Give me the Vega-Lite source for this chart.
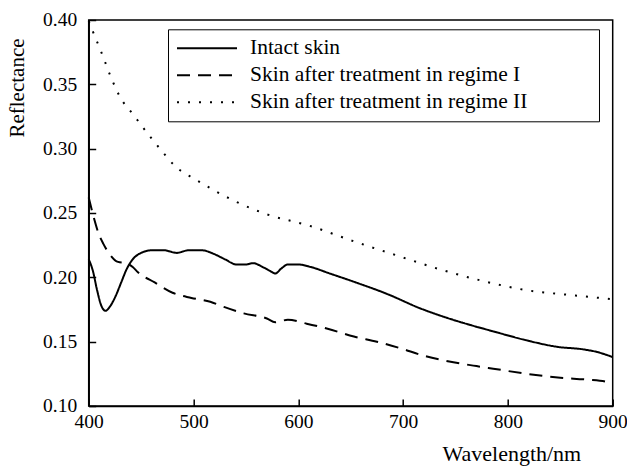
{
  "$schema": "https://vega.github.io/schema/vega-lite/v6.json",
  "width": 524,
  "height": 386,
  "autosize": {"type": "none"},
  "padding": {"left": 88.7, "top": 20, "right": 14.3, "bottom": 62.3},
  "background": "white",
  "config": {
    "font": "Liberation Serif, Times New Roman, serif",
    "view": {"stroke": "black", "strokeWidth": 1.5},
    "axis": {
      "domainColor": "black", "tickColor": "black", "labelColor": "black", "titleColor": "black",
      "grid": false, "labelFont": "Liberation Serif, Times New Roman, serif", "titleFont": "Liberation Serif, Times New Roman, serif",
      "labelFontSize": 19.5, "titleFontSize": 21, "titleFontWeight": "normal",
      "tickSize": -7, "domainWidth": 1.5, "tickWidth": 1.5, "labelFlush": false
    }
  },
  "data": {"values": [
    {"series": "Intact skin", "wavelength": 400, "reflectance": 0.214},
    {"series": "Intact skin", "wavelength": 404, "reflectance": 0.205},
    {"series": "Intact skin", "wavelength": 408, "reflectance": 0.190},
    {"series": "Intact skin", "wavelength": 412, "reflectance": 0.178},
    {"series": "Intact skin", "wavelength": 416, "reflectance": 0.174},
    {"series": "Intact skin", "wavelength": 420, "reflectance": 0.177},
    {"series": "Intact skin", "wavelength": 426, "reflectance": 0.186},
    {"series": "Intact skin", "wavelength": 431, "reflectance": 0.196},
    {"series": "Intact skin", "wavelength": 436, "reflectance": 0.206},
    {"series": "Intact skin", "wavelength": 442, "reflectance": 0.214},
    {"series": "Intact skin", "wavelength": 450, "reflectance": 0.219},
    {"series": "Intact skin", "wavelength": 460, "reflectance": 0.221},
    {"series": "Intact skin", "wavelength": 472, "reflectance": 0.221},
    {"series": "Intact skin", "wavelength": 484, "reflectance": 0.219},
    {"series": "Intact skin", "wavelength": 495, "reflectance": 0.221},
    {"series": "Intact skin", "wavelength": 508, "reflectance": 0.221},
    {"series": "Intact skin", "wavelength": 520, "reflectance": 0.218},
    {"series": "Intact skin", "wavelength": 530, "reflectance": 0.214},
    {"series": "Intact skin", "wavelength": 541, "reflectance": 0.210},
    {"series": "Intact skin", "wavelength": 550, "reflectance": 0.210},
    {"series": "Intact skin", "wavelength": 557, "reflectance": 0.211},
    {"series": "Intact skin", "wavelength": 566, "reflectance": 0.208},
    {"series": "Intact skin", "wavelength": 573, "reflectance": 0.205},
    {"series": "Intact skin", "wavelength": 578, "reflectance": 0.203},
    {"series": "Intact skin", "wavelength": 584, "reflectance": 0.207},
    {"series": "Intact skin", "wavelength": 590, "reflectance": 0.210},
    {"series": "Intact skin", "wavelength": 600, "reflectance": 0.210},
    {"series": "Intact skin", "wavelength": 612, "reflectance": 0.208},
    {"series": "Intact skin", "wavelength": 630, "reflectance": 0.203},
    {"series": "Intact skin", "wavelength": 655, "reflectance": 0.196},
    {"series": "Intact skin", "wavelength": 685, "reflectance": 0.187},
    {"series": "Intact skin", "wavelength": 716, "reflectance": 0.176},
    {"series": "Intact skin", "wavelength": 740, "reflectance": 0.169},
    {"series": "Intact skin", "wavelength": 764, "reflectance": 0.163},
    {"series": "Intact skin", "wavelength": 786, "reflectance": 0.158},
    {"series": "Intact skin", "wavelength": 818, "reflectance": 0.151},
    {"series": "Intact skin", "wavelength": 847, "reflectance": 0.146},
    {"series": "Intact skin", "wavelength": 872, "reflectance": 0.144},
    {"series": "Intact skin", "wavelength": 885, "reflectance": 0.142},
    {"series": "Intact skin", "wavelength": 900, "reflectance": 0.138},
    {"series": "Skin after treatment in regime I", "wavelength": 400, "reflectance": 0.262},
    {"series": "Skin after treatment in regime I", "wavelength": 405, "reflectance": 0.246},
    {"series": "Skin after treatment in regime I", "wavelength": 409, "reflectance": 0.235},
    {"series": "Skin after treatment in regime I", "wavelength": 414, "reflectance": 0.226},
    {"series": "Skin after treatment in regime I", "wavelength": 420, "reflectance": 0.218},
    {"series": "Skin after treatment in regime I", "wavelength": 428, "reflectance": 0.212},
    {"series": "Skin after treatment in regime I", "wavelength": 436, "reflectance": 0.211},
    {"series": "Skin after treatment in regime I", "wavelength": 442, "reflectance": 0.208},
    {"series": "Skin after treatment in regime I", "wavelength": 447, "reflectance": 0.204},
    {"series": "Skin after treatment in regime I", "wavelength": 463, "reflectance": 0.196},
    {"series": "Skin after treatment in regime I", "wavelength": 480, "reflectance": 0.188},
    {"series": "Skin after treatment in regime I", "wavelength": 498, "reflectance": 0.184},
    {"series": "Skin after treatment in regime I", "wavelength": 516, "reflectance": 0.181},
    {"series": "Skin after treatment in regime I", "wavelength": 529, "reflectance": 0.177},
    {"series": "Skin after treatment in regime I", "wavelength": 548, "reflectance": 0.172},
    {"series": "Skin after treatment in regime I", "wavelength": 570, "reflectance": 0.168},
    {"series": "Skin after treatment in regime I", "wavelength": 578, "reflectance": 0.165},
    {"series": "Skin after treatment in regime I", "wavelength": 590, "reflectance": 0.167},
    {"series": "Skin after treatment in regime I", "wavelength": 608, "reflectance": 0.164},
    {"series": "Skin after treatment in regime I", "wavelength": 628, "reflectance": 0.160},
    {"series": "Skin after treatment in regime I", "wavelength": 653, "reflectance": 0.154},
    {"series": "Skin after treatment in regime I", "wavelength": 675, "reflectance": 0.150},
    {"series": "Skin after treatment in regime I", "wavelength": 697, "reflectance": 0.145},
    {"series": "Skin after treatment in regime I", "wavelength": 720, "reflectance": 0.139},
    {"series": "Skin after treatment in regime I", "wavelength": 748, "reflectance": 0.134},
    {"series": "Skin after treatment in regime I", "wavelength": 770, "reflectance": 0.131},
    {"series": "Skin after treatment in regime I", "wavelength": 786, "reflectance": 0.129},
    {"series": "Skin after treatment in regime I", "wavelength": 818, "reflectance": 0.125},
    {"series": "Skin after treatment in regime I", "wavelength": 850, "reflectance": 0.122},
    {"series": "Skin after treatment in regime I", "wavelength": 876, "reflectance": 0.1205},
    {"series": "Skin after treatment in regime I", "wavelength": 893, "reflectance": 0.119},
    {"series": "Skin after treatment in regime I", "wavelength": 898, "reflectance": 0.117},
    {"series": "Skin after treatment in regime II", "wavelength": 400, "reflectance": 0.399},
    {"series": "Skin after treatment in regime II", "wavelength": 405, "reflectance": 0.389},
    {"series": "Skin after treatment in regime II", "wavelength": 413, "reflectance": 0.373},
    {"series": "Skin after treatment in regime II", "wavelength": 421, "reflectance": 0.356},
    {"series": "Skin after treatment in regime II", "wavelength": 430, "reflectance": 0.340},
    {"series": "Skin after treatment in regime II", "wavelength": 443, "reflectance": 0.326},
    {"series": "Skin after treatment in regime II", "wavelength": 456, "reflectance": 0.312},
    {"series": "Skin after treatment in regime II", "wavelength": 470, "reflectance": 0.298},
    {"series": "Skin after treatment in regime II", "wavelength": 483, "reflectance": 0.286},
    {"series": "Skin after treatment in regime II", "wavelength": 502, "reflectance": 0.276},
    {"series": "Skin after treatment in regime II", "wavelength": 521, "reflectance": 0.267},
    {"series": "Skin after treatment in regime II", "wavelength": 540, "reflectance": 0.259},
    {"series": "Skin after treatment in regime II", "wavelength": 560, "reflectance": 0.252},
    {"series": "Skin after treatment in regime II", "wavelength": 570, "reflectance": 0.249},
    {"series": "Skin after treatment in regime II", "wavelength": 611, "reflectance": 0.240},
    {"series": "Skin after treatment in regime II", "wavelength": 653, "reflectance": 0.228},
    {"series": "Skin after treatment in regime II", "wavelength": 694, "reflectance": 0.217},
    {"series": "Skin after treatment in regime II", "wavelength": 736, "reflectance": 0.206},
    {"series": "Skin after treatment in regime II", "wavelength": 777, "reflectance": 0.197},
    {"series": "Skin after treatment in regime II", "wavelength": 818, "reflectance": 0.190},
    {"series": "Skin after treatment in regime II", "wavelength": 863, "reflectance": 0.186},
    {"series": "Skin after treatment in regime II", "wavelength": 900, "reflectance": 0.183}
  ]},
  "mark": {"type": "line", "strokeWidth": 2, "color": "black", "interpolate": "monotone"},
  "encoding": {
    "x": {
      "field": "wavelength", "type": "quantitative",
      "scale": {"domain": [400, 900], "nice": false, "zero": false},
      "axis": {
        "values": [400, 500, 600, 700, 800, 900], "title": "Wavelength/nm",
        "labelPadding": 14, "titleX": 492, "titleY": 55, "titleAlign": "right", "titleFontSize": 22,
        "titleAnchor": null, "titleBaseline": "alphabetic"
      }
    },
    "y": {
      "field": "reflectance", "type": "quantitative",
      "scale": {"domain": [0.1, 0.4], "nice": false, "zero": false},
      "axis": {
        "values": [0.1, 0.15, 0.2, 0.25, 0.3, 0.35, 0.4], "format": ".2f", "title": "Reflectance",
        "labelPadding": 19, "titleX": -71.7, "titleY": 67.5, "titleAngle": -90,
        "titleAlign": "center", "titleBaseline": "middle", "titleAnchor": null
      }
    },
    "strokeDash": {
      "field": "series", "type": "nominal",
      "scale": {
        "domain": ["Intact skin", "Skin after treatment in regime I", "Skin after treatment in regime II"],
        "range": [[1, 0], [13, 8], [2, 9]]
      },
      "legend": {
        "orient": "none", "legendX": 79.3, "legendY": 9.3,
        "title": "\u00a0", "titleOrient": "right", "titlePadding": 63, "titleFontSize": 21,
        "strokeColor": "black", "padding": 8, "rowPadding": 5,
        "labelFontSize": 21.5, "labelFont": "Liberation Serif, Times New Roman, serif", "labelColor": "black",
        "labelLimit": 500,
        "symbolType": "M-1,0L5,0", "symbolSize": 400, "symbolStrokeWidth": 2,
        "symbolStrokeColor": "black", "labelOffset": 52, "cornerRadius": 0
      }
    }
  }
}
